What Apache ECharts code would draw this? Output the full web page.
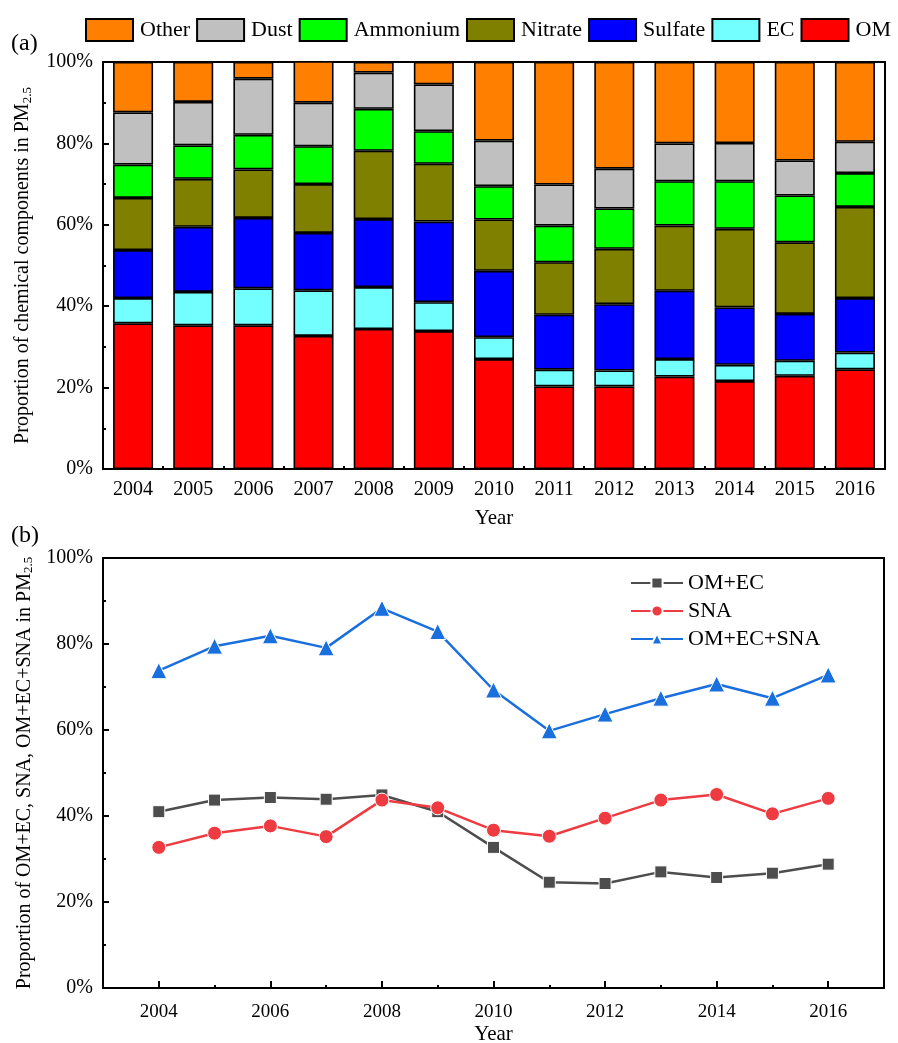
<!DOCTYPE html>
<html>
<head>
<meta charset="utf-8">
<script src="https://cdn.jsdelivr.net/npm/echarts@6/dist/echarts.min.js"></script>
<style>
html,body{margin:0;padding:0;background:#fff;}
#chart{width:898px;height:1043px;}
</style>
</head>
<body>
<div id="chart"></div>
<script>
// ---- Data (panel a): proportions (%) of chemical components in PM2.5 ----
const years = ['2004','2005','2006','2007','2008','2009','2010','2011','2012','2013','2014','2015','2016'];
const OM       = [35.8, 35.3, 35.3, 32.7, 34.4, 33.9, 27.0, 20.3, 20.3, 22.7, 21.6, 22.9, 24.5];
const EC       = [ 6.2,  8.2,  9.1, 11.2, 10.3,  7.1,  5.4,  4.1,  3.9,  4.3,  4.0,  3.7,  4.1];
const Sulfate  = [11.8, 16.0, 17.3, 14.1, 16.7, 19.8, 16.3, 13.5, 16.3, 16.8, 14.1, 11.5, 13.4];
const Nitrate  = [12.8, 11.8, 11.9, 12.0, 16.8, 14.2, 12.6, 12.9, 13.6, 16.0, 19.3, 17.6, 22.4];
const Ammonium = [ 8.2,  8.2,  8.5,  9.3, 10.3,  8.0,  8.2,  9.0,  9.9, 10.9, 11.7, 11.5,  8.3];
const Dust     = [12.8, 10.7, 13.8, 10.7,  8.9, 11.5, 11.2, 10.1,  9.8,  9.3,  9.4,  8.6,  7.7];
const Other    = [12.4,  9.8,  4.1, 10.2,  2.6,  5.5, 19.3, 30.1, 26.2, 20.0, 19.9, 24.2, 19.6];

// ---- Data (panel b) ----
const axisYearsB = ['2003','2004','2005','2006','2007','2008','2009','2010','2011','2012','2013','2014','2015','2016','2017'];
const OM_EC     = [41.0, 43.7, 44.3, 43.9, 44.9, 41.0, 32.7, 24.6, 24.3, 27.0, 25.7, 26.7, 28.8];
const SNA       = [32.7, 36.0, 37.7, 35.2, 43.7, 41.9, 36.7, 35.3, 39.5, 43.7, 45.0, 40.5, 44.1];
const OM_EC_SNA = [73.8, 79.5, 81.9, 79.1, 88.3, 82.9, 69.3, 59.8, 63.7, 67.4, 70.7, 67.4, 72.8];

const yTicks = [0, 20, 40, 60, 80, 100];

const FONT = '"Liberation Serif","Times New Roman",serif';

const barDefs = [
  {name:'OM', data:OM, color:'#FF0000'},
  {name:'EC', data:EC, color:'#73FFFF'},
  {name:'Sulfate', data:Sulfate, color:'#0000FF'},
  {name:'Nitrate', data:Nitrate, color:'#808000'},
  {name:'Ammonium', data:Ammonium, color:'#00FF00'},
  {name:'Dust', data:Dust, color:'#C0C0C0'},
  {name:'Other', data:Other, color:'#FF8000'}
];
const lineDefs = [
  {name:'OM+EC', data:OM_EC, color:'#4D4D4D', symbol:'rect'},
  {name:'SNA', data:SNA, color:'#EE3B42', symbol:'circle'},
  {name:'OM+EC+SNA', data:OM_EC_SNA, color:'#1A6FDF', symbol:'triangle'}
];

const chart = echarts.init(document.getElementById('chart'), null, {renderer:'canvas'});

const series = [];
barDefs.forEach(d => {
  series.push({
    type:'bar', name:d.name, stack:'total', xAxisIndex:0, yAxisIndex:0,
    data:d.data, barWidth:40,
    itemStyle:{color:d.color, borderColor:'#000', borderWidth:1.6}
  });
});
lineDefs.forEach(d => {
  series.push({
    type:'line', name:d.name, xAxisIndex:2, yAxisIndex:1,
    data:years.map((y,i)=>[y, d.data[i]]),
    symbol:d.symbol, symbolSize:d.symbol==='triangle'?16:(d.symbol==='rect'?12:14),
    lineStyle:{color:d.color, width:2.5},
    itemStyle:{color:d.color, borderColor:'#fff', borderWidth:1},
    z:3
  });
});

const yLabel = {formatter:'{value}%', fontSize:20, fontFamily:FONT, color:'#000', margin:10};
const axisLineStyle = {show:true, lineStyle:{color:'#000', width:2}};

const option = {
  animation:false,
  backgroundColor:'#fff',
  title:[
    {text:'(a)', left:6, top:27, textStyle:{fontSize:24, fontWeight:'normal', fontFamily:FONT, color:'#000'}},
    {text:'(b)', left:6, top:519, textStyle:{fontSize:24, fontWeight:'normal', fontFamily:FONT, color:'#000'}}
  ],
  legend:[
    {
      data:['Other','Dust','Ammonium','Nitrate','Sulfate','EC','OM'],
      left:80, top:13, orient:'horizontal',
      itemWidth:47, itemHeight:22, itemGap:6,
      icon:'rect',
      itemStyle:{borderColor:'#000', borderWidth:2},
      textStyle:{fontSize:22, fontFamily:FONT, color:'#000', padding:[0,0,0,2]}
    },
    {
      data:['OM+EC','SNA','OM+EC+SNA'],
      left:625, top:567, orient:'vertical',
      itemWidth:52, itemHeight:14, itemGap:6,
      textStyle:{fontSize:22, fontFamily:FONT, color:'#000', padding:[0,0,0,0]}
    }
  ],
  grid:[
    {left:103, right:13, top:62, height:407, show:true, borderColor:'#000', borderWidth:2, backgroundColor:'transparent', outerBoundsMode:'none', containLabel:false},
    {left:103, right:14, top:558, height:430, show:true, borderColor:'#000', borderWidth:2, backgroundColor:'transparent', outerBoundsMode:'none', containLabel:false}
  ],
  xAxis:[
    {
      type:'category', gridIndex:0, data:years, boundaryGap:true,
      name:'Year', nameLocation:'middle', nameGap:39,
      nameTextStyle:{fontSize:21, fontFamily:FONT, color:'#000'},
      axisLine:axisLineStyle,
      axisTick:{show:true, inside:true, alignWithLabel:true, length:6, lineStyle:{color:'#000', width:2}},
      axisLabel:{fontSize:20, fontFamily:FONT, color:'#000', margin:11, interval:0},
      splitLine:{show:false}
    },
    {
      type:'category', gridIndex:0, data:years, boundaryGap:true, position:'bottom',
      axisLine:{show:false},
      axisTick:{show:true, inside:true, alignWithLabel:false, length:3, lineStyle:{color:'#000', width:2}},
      axisLabel:{show:false}, splitLine:{show:false}
    },
    {
      type:'category', gridIndex:1, data:axisYearsB, boundaryGap:false,
      name:'Year', nameLocation:'middle', nameGap:36,
      nameTextStyle:{fontSize:21, fontFamily:FONT, color:'#000'},
      axisLine:axisLineStyle,
      axisTick:{show:true, inside:true, length:7, interval:(i)=> i % 2 === 1, lineStyle:{color:'#000', width:2}},
      axisLabel:{fontSize:19, fontFamily:FONT, color:'#000', margin:15, interval:(i)=> i % 2 === 1},
      splitLine:{show:false}
    },
    {
      type:'category', gridIndex:1, data:axisYearsB, boundaryGap:false, position:'bottom',
      axisLine:{show:false},
      axisTick:{show:true, inside:true, length:3, interval:(i)=> i % 2 === 0 && i > 0 && i < 14, lineStyle:{color:'#000', width:2}},
      axisLabel:{show:false}, splitLine:{show:false}
    }
  ],
  yAxis:[
    {
      type:'value', gridIndex:0, min:yTicks[0], max:yTicks[yTicks.length-1], interval:20,
      name:'{t|Proportion of chemical components in PM}{s|2.5}',
      nameLocation:'middle', nameGap:69,
      nameTextStyle:{fontFamily:FONT, color:'#000', rich:{
        t:{fontSize:20, fontFamily:FONT, color:'#000', lineHeight:22, verticalAlign:'middle'},
        s:{fontSize:13, fontFamily:FONT, color:'#000', lineHeight:12, verticalAlign:'bottom'}
      }},
      axisLine:axisLineStyle,
      axisTick:{show:true, inside:true, length:6, lineStyle:{color:'#000', width:2}},
      minorTick:{show:true, splitNumber:2, length:3, lineStyle:{color:'#000', width:2}},
      axisLabel:yLabel,
      splitLine:{show:false}
    },
    {
      type:'value', gridIndex:1, min:yTicks[0], max:yTicks[yTicks.length-1], interval:20,
      name:'{t|Proportion of OM+EC, SNA, OM+EC+SNA in PM}{s|2.5}',
      nameLocation:'middle', nameGap:57,
      nameTextStyle:{fontFamily:FONT, color:'#000', rich:{
        t:{fontSize:20, fontFamily:FONT, color:'#000', lineHeight:22, verticalAlign:'middle'},
        s:{fontSize:13, fontFamily:FONT, color:'#000', lineHeight:12, verticalAlign:'bottom'}
      }},
      axisLine:axisLineStyle,
      axisTick:{show:true, inside:true, length:6, lineStyle:{color:'#000', width:2}},
      minorTick:{show:true, splitNumber:2, length:3, lineStyle:{color:'#000', width:2}},
      axisLabel:yLabel,
      splitLine:{show:false}
    }
  ],
  series:series
};
chart.setOption(option);
</script>
</body>
</html>
